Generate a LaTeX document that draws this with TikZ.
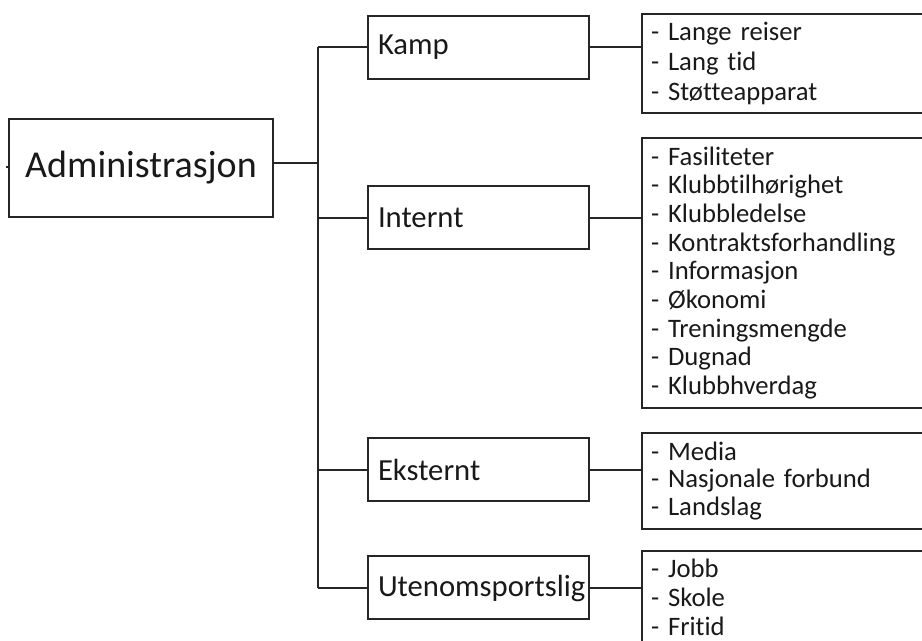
\documentclass[tikz,border=0pt]{standalone}
\usepackage{fontspec}
\setmainfont{Carlito}[Ligatures={NoCommon,NoContextual}]
\usetikzlibrary{calc}

\begin{document}
\begin{tikzpicture}[x=0.75pt, y=-0.75pt, line width=1.5pt, draw=black!85,
    every node/.style={rectangle, draw=black!85, line width=1.5pt, text=black!90},
    topbox/.style={minimum width=198pt, minimum height=73.5pt, font=\fontsize{28.5}{34}\selectfont},
    subbox/.style={minimum width=165.75pt, minimum height=47.25pt, inner xsep=7.5pt,
        text width=150.75pt, align=left, font=\fontsize{23}{28}\selectfont},
    listbox/.style={inner xsep=6.75pt, text width=210pt, align=left, font=\fontsize{20}{22.1}\selectfont}]
    \clip (0,0) rectangle (922,641);

    \node[topbox] (admin) at (141,168) {Administrasjon};

    \node[subbox] (kamp) at (478.5,47.5) {Kamp};
    \node[subbox] (internt) at (478.5,218) {Internt};
    \node[subbox] (eksternt) at (478.5,470) {Eksternt};
    \node[subbox] (uten) at (478.5,588) {Utenomsportslig};

    \node[listbox, minimum height=74.25pt, font=\fontsize{20}{22.6}\selectfont] (lkamp) at (791,63.5)
        {- Lange reiser\\- Lang tid\\- Støtteapparat};
    \node[listbox, minimum height=202.5pt, font=\fontsize{20}{21.5}\selectfont] (linternt) at (791,273)
        {- Fasiliteter\\- Klubbtilhørighet\\- Klubbledelse\\- Kontraktsforhandling\\- Informasjon\\- Økonomi\\- Treningsmengde\\- Dugnad\\- Klubbhverdag};
    \node[listbox, minimum height=72pt, font=\fontsize{20}{20.6}\selectfont] (leksternt) at (791,481)
        {- Media\\- Nasjonale forbund\\- Landslag};
    \node[listbox, minimum height=69pt, font=\fontsize{20}{21.8}\selectfont] (luten) at (791,597)
        {- Jobb\\- Skole\\- Fritid};

    \coordinate (trunk) at (318,0);
    \coordinate (stub) at (6,167);

    \draw (stub) -- (stub -| admin.west);
    \draw ([yshift=3.75pt]admin.east) -- ([yshift=3.75pt]admin.east -| trunk);
    \draw (kamp.west -| trunk) -- (uten.west -| trunk);
    \draw (kamp.west -| trunk) -- (kamp.west);
    \draw (internt.west -| trunk) -- (internt.west);
    \draw (eksternt.west -| trunk) -- (eksternt.west);
    \draw (uten.west -| trunk) -- (uten.west);

    \draw (kamp.east) -- (kamp.east -| lkamp.west);
    \draw (internt.east) -- (internt.east -| linternt.west);
    \draw (eksternt.east) -- (eksternt.east -| leksternt.west);
    \draw (uten.east) -- (uten.east -| luten.west);
\end{tikzpicture}
\end{document}
